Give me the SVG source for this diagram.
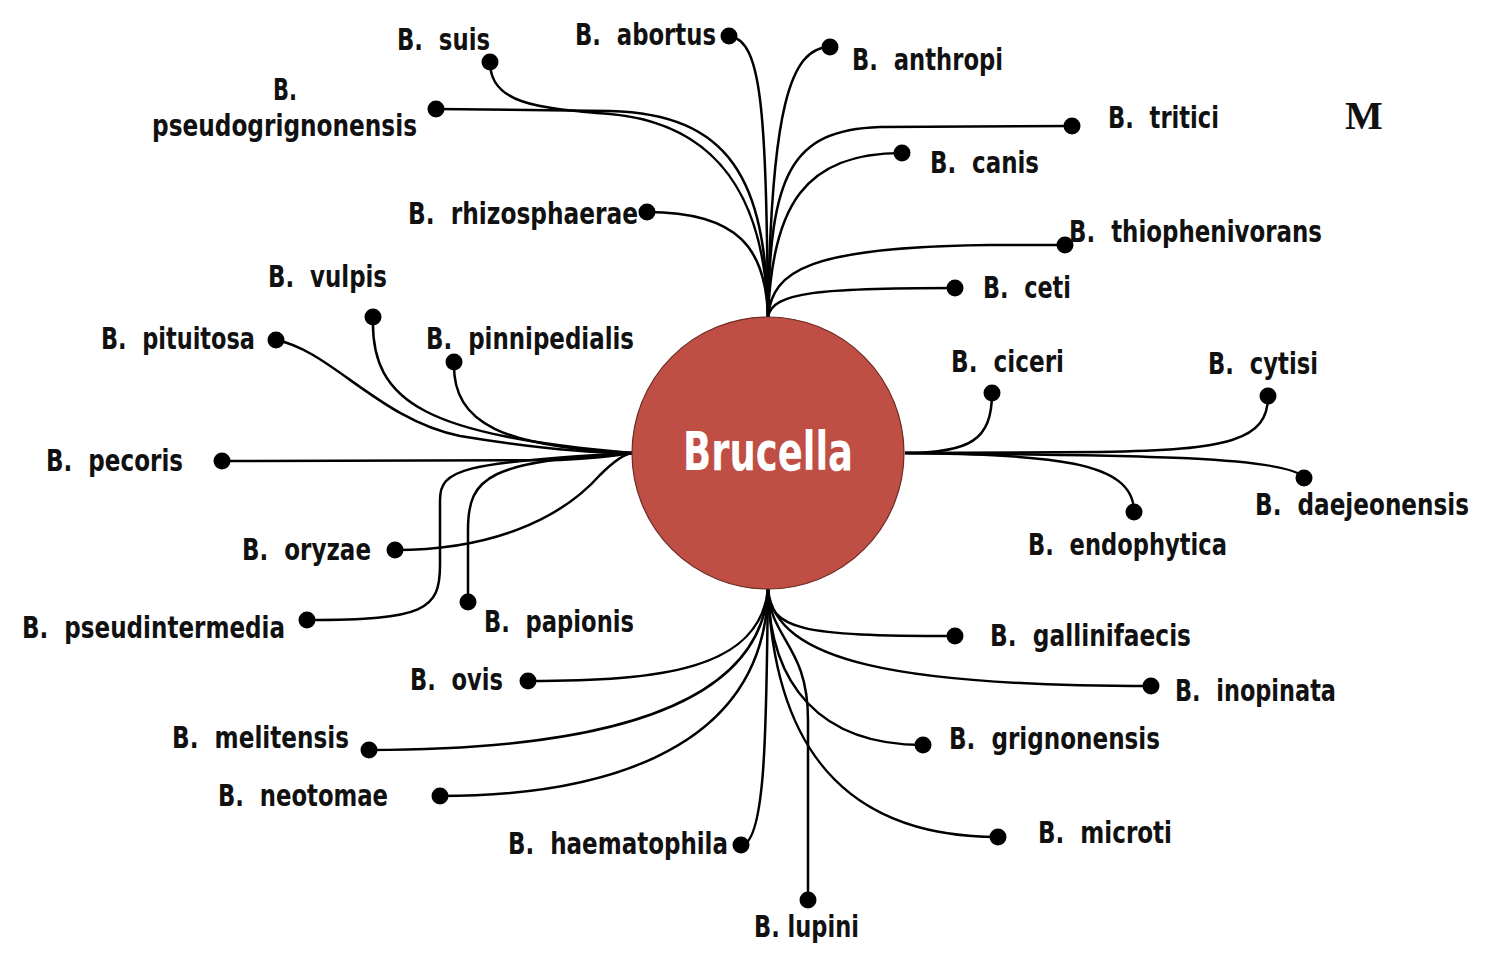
<svg xmlns="http://www.w3.org/2000/svg" width="1500" height="968" viewBox="0 0 1500 968">
<style>
.lbl{font-family:"Liberation Sans Narrow","DejaVu Sans Condensed","Liberation Sans",sans-serif;font-weight:bold;font-size:31px;fill:#111}
.dot{fill:#000}
.conn path{fill:none;stroke:#000;stroke-width:2.5}
</style>
<rect width="1500" height="968" fill="#fff"/>
<g class="conn" id="connectors">
<path d="M490,62 C490,105 540,108 610,114 C720,124 765,200 768,317"/>
<path d="M436,109 L610,111 C730,114 766,180 768,317"/>
<path d="M729,36 C762,40 766,110 768,317"/>
<path d="M830,47 C790,47 771,110 768,317"/>
<path d="M1072,126 L880,127 C790,130 770,175 768,317"/>
<path d="M902,153 C805,153 772,205 768,317"/>
<path d="M647,212 C740,212 766,250 768,317"/>
<path d="M1065,245 L990,245 C810,247 772,270 768,317"/>
<path d="M955,288 C820,288 772,292 768,317"/>
<path d="M276,340 C330,350 380,420 460,436 C545,450 600,453 632,453"/>
<path d="M373,317 C370,405 430,435 632,453"/>
<path d="M454,362 C452,425 505,447 632,453"/>
<path d="M222,461 L560,460 C600,458 620,455 632,453"/>
<path d="M395,550 C490,550 560,520 600,475 C615,460 625,454 632,453"/>
<path d="M307,620 C425,620 440,610 440,565 L440,500 C440,470 460,462 632,453"/>
<path d="M468,602 L468,530 C468,475 490,462 632,453"/>
<path d="M905,453 C970,453 992,440 992,393"/>
<path d="M905,453 L1100,452 C1230,450 1268,440 1268,396"/>
<path d="M905,453 C1100,455 1290,455 1304,478"/>
<path d="M905,453 C1050,455 1134,460 1134,512"/>
<path d="M768,589 C770,630 800,636 955,636"/>
<path d="M768,589 C775,662 900,686 1151,686"/>
<path d="M768,589 C770,685 820,745 923,745"/>
<path d="M768,589 C775,765 860,837 998,837"/>
<path d="M768,589 C770,640 808,645 808,720 L808,900"/>
<path d="M768,589 C766,700 768,845 741,845"/>
<path d="M768,589 C760,670 660,681 528,681"/>
<path d="M768,589 C760,722 560,750 369,750"/>
<path d="M768,589 C765,762 580,796 440,796"/>
</g>
<g id="brucella">
<circle cx="768" cy="453" r="136" fill="#BF4F45" stroke="#6e2a24" stroke-width="1.2"/>
<text x="768" y="470" text-anchor="middle" font-family="'Liberation Sans Narrow','DejaVu Sans Condensed','Liberation Sans',sans-serif" font-weight="bold" font-size="53" fill="#fff" textLength="170" lengthAdjust="spacingAndGlyphs">Brucella</text>
</g>
<g id="suis"><circle class="dot" cx="490" cy="62" r="8.5"/><text class="lbl" x="397" y="50" textLength="93" lengthAdjust="spacingAndGlyphs">B.&#160; suis</text></g>
<g id="abortus"><circle class="dot" cx="729" cy="36" r="8.5"/><text class="lbl" x="575" y="45" textLength="141" lengthAdjust="spacingAndGlyphs">B.&#160; abortus</text></g>
<g id="anthropi"><circle class="dot" cx="830" cy="47" r="8.5"/><text class="lbl" x="852" y="70" textLength="151" lengthAdjust="spacingAndGlyphs">B.&#160; anthropi</text></g>
<g id="pseudogrignonensis"><circle class="dot" cx="436" cy="109" r="8.5"/><text class="lbl" x="273" y="100" textLength="24" lengthAdjust="spacingAndGlyphs">B.</text><text class="lbl" x="152" y="136" textLength="265" lengthAdjust="spacingAndGlyphs">pseudogrignonensis</text></g>
<g id="tritici"><circle class="dot" cx="1072" cy="126" r="8.5"/><text class="lbl" x="1108" y="128" textLength="111" lengthAdjust="spacingAndGlyphs">B.&#160; tritici</text></g>
<g id="mark"><text x="1345" y="129" font-family="'Liberation Serif',serif" font-weight="bold" font-size="40" fill="#111">M</text></g>
<g id="canis"><circle class="dot" cx="902" cy="153" r="8.5"/><text class="lbl" x="930" y="173" textLength="109" lengthAdjust="spacingAndGlyphs">B.&#160; canis</text></g>
<g id="rhizosphaerae"><circle class="dot" cx="647" cy="212" r="8.5"/><text class="lbl" x="408" y="224" textLength="230" lengthAdjust="spacingAndGlyphs">B.&#160; rhizosphaerae</text></g>
<g id="thiophenivorans"><circle class="dot" cx="1065" cy="245" r="8.5"/><text class="lbl" x="1069" y="242" textLength="253" lengthAdjust="spacingAndGlyphs">B.&#160; thiophenivorans</text></g>
<g id="vulpis"><circle class="dot" cx="373" cy="317" r="8.5"/><text class="lbl" x="268" y="287" textLength="119" lengthAdjust="spacingAndGlyphs">B.&#160; vulpis</text></g>
<g id="ceti"><circle class="dot" cx="955" cy="288" r="8.5"/><text class="lbl" x="983" y="298" textLength="88" lengthAdjust="spacingAndGlyphs">B.&#160; ceti</text></g>
<g id="pituitosa"><circle class="dot" cx="276" cy="340" r="8.5"/><text class="lbl" x="101" y="349" textLength="154" lengthAdjust="spacingAndGlyphs">B.&#160; pituitosa</text></g>
<g id="pinnipedialis"><circle class="dot" cx="454" cy="362" r="8.5"/><text class="lbl" x="426" y="349" textLength="208" lengthAdjust="spacingAndGlyphs">B.&#160; pinnipedialis</text></g>
<g id="ciceri"><circle class="dot" cx="992" cy="393" r="8.5"/><text class="lbl" x="951" y="372" textLength="113" lengthAdjust="spacingAndGlyphs">B.&#160; ciceri</text></g>
<g id="cytisi"><circle class="dot" cx="1268" cy="396" r="8.5"/><text class="lbl" x="1208" y="374" textLength="110" lengthAdjust="spacingAndGlyphs">B.&#160; cytisi</text></g>
<g id="pecoris"><circle class="dot" cx="222" cy="461" r="8.5"/><text class="lbl" x="46" y="471" textLength="137" lengthAdjust="spacingAndGlyphs">B.&#160; pecoris</text></g>
<g id="daejeonensis"><circle class="dot" cx="1304" cy="478" r="8.5"/><text class="lbl" x="1255" y="515" textLength="214" lengthAdjust="spacingAndGlyphs">B.&#160; daejeonensis</text></g>
<g id="endophytica"><circle class="dot" cx="1134" cy="512" r="8.5"/><text class="lbl" x="1028" y="555" textLength="199" lengthAdjust="spacingAndGlyphs">B.&#160; endophytica</text></g>
<g id="oryzae"><circle class="dot" cx="395" cy="550" r="8.5"/><text class="lbl" x="242" y="560" textLength="129" lengthAdjust="spacingAndGlyphs">B.&#160; oryzae</text></g>
<g id="pseudintermedia"><circle class="dot" cx="307" cy="620" r="8.5"/><text class="lbl" x="22" y="638" textLength="263" lengthAdjust="spacingAndGlyphs">B.&#160; pseudintermedia</text></g>
<g id="papionis"><circle class="dot" cx="468" cy="602" r="8.5"/><text class="lbl" x="484" y="632" textLength="150" lengthAdjust="spacingAndGlyphs">B.&#160; papionis</text></g>
<g id="gallinifaecis"><circle class="dot" cx="955" cy="636" r="8.5"/><text class="lbl" x="990" y="646" textLength="201" lengthAdjust="spacingAndGlyphs">B.&#160; gallinifaecis</text></g>
<g id="ovis"><circle class="dot" cx="528" cy="681" r="8.5"/><text class="lbl" x="410" y="690" textLength="93" lengthAdjust="spacingAndGlyphs">B.&#160; ovis</text></g>
<g id="inopinata"><circle class="dot" cx="1151" cy="686" r="8.5"/><text class="lbl" x="1175" y="701" textLength="161" lengthAdjust="spacingAndGlyphs">B.&#160; inopinata</text></g>
<g id="melitensis"><circle class="dot" cx="369" cy="750" r="8.5"/><text class="lbl" x="172" y="748" textLength="177" lengthAdjust="spacingAndGlyphs">B.&#160; melitensis</text></g>
<g id="grignonensis"><circle class="dot" cx="923" cy="745" r="8.5"/><text class="lbl" x="949" y="749" textLength="211" lengthAdjust="spacingAndGlyphs">B.&#160; grignonensis</text></g>
<g id="neotomae"><circle class="dot" cx="440" cy="796" r="8.5"/><text class="lbl" x="218" y="806" textLength="170" lengthAdjust="spacingAndGlyphs">B.&#160; neotomae</text></g>
<g id="microti"><circle class="dot" cx="998" cy="837" r="8.5"/><text class="lbl" x="1038" y="843" textLength="134" lengthAdjust="spacingAndGlyphs">B.&#160; microti</text></g>
<g id="haematophila"><circle class="dot" cx="741" cy="845" r="8.5"/><text class="lbl" x="508" y="854" textLength="220" lengthAdjust="spacingAndGlyphs">B.&#160; haematophila</text></g>
<g id="lupini"><circle class="dot" cx="808" cy="900" r="8.5"/><text class="lbl" x="754" y="937" textLength="105" lengthAdjust="spacingAndGlyphs">B. lupini</text></g>
</svg>
